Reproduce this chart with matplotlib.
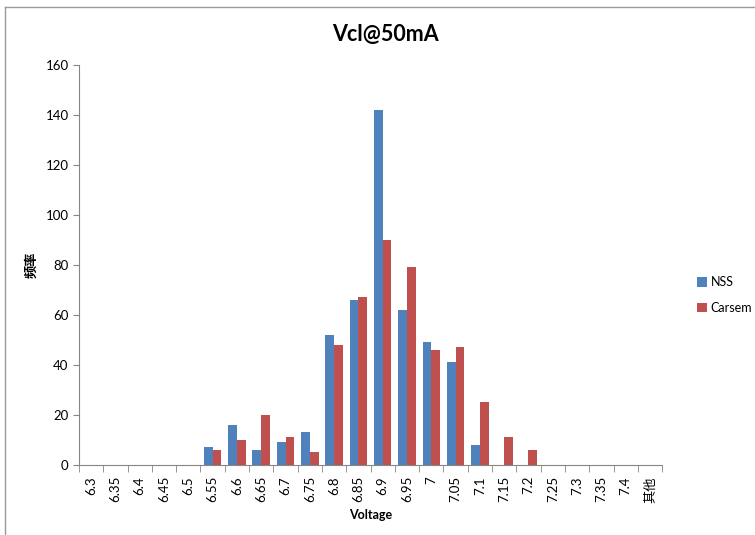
import numpy as np
import matplotlib.pyplot as plt
from matplotlib.lines import Line2D

plt.rcParams['font.family'] = ['Lato', 'Noto Sans CJK SC', 'DejaVu Sans']

categories = ['6.3', '6.35', '6.4', '6.45', '6.5', '6.55', '6.6', '6.65', '6.7', '6.75',
              '6.8', '6.85', '6.9', '6.95', '7', '7.05', '7.1', '7.15', '7.2', '7.25',
              '7.3', '7.35', '7.4', '其他']
nss = [0, 0, 0, 0, 0, 7, 16, 6, 9, 13, 52, 66, 142, 62, 49, 41, 8, 0, 0, 0, 0, 0, 0, 0]
carsem = [0, 0, 0, 0, 0, 6, 10, 20, 11, 5, 48, 67, 90, 79, 46, 47, 25, 11, 6, 0, 0, 0, 0, 0]
yticks = [0, 20, 40, 60, 80, 100, 120, 140, 160]

fig = plt.figure(figsize=(7.55, 5.35), dpi=100)
ax = fig.add_axes([0.1046, 0.131, 0.7724, 0.7475])

x = np.arange(len(categories))
w = 0.36
ax.bar(x - w / 2, nss, w, color='#4f81bd', label='NSS')
ax.bar(x + w / 2, carsem, w, color='#c0504d', label='Carsem')

ax.set_xlim(-0.5, len(categories) - 0.5)
ax.set_ylim(0, 160)
ax.set_yticks(yticks)
ax.tick_params(axis='y', labelsize=9.5, length=4, color='#868686', direction='out')

# category labels at centers, tick marks at boundaries
ax.set_xticks(x)
ax.set_xticklabels(categories, rotation=90, fontsize=9.5)
ax.tick_params(axis='x', which='major', length=0, pad=8)
ax.set_xticks(np.arange(-0.5, len(categories)), minor=True)
ax.tick_params(axis='x', which='minor', length=5, color='#868686')

for s in ['top', 'right']:
    ax.spines[s].set_visible(False)
for s in ['left', 'bottom']:
    ax.spines[s].set_color('#868686')

# Excel centres the title on the whole chart, not the plot area
fig.text(0.51, 0.935, 'Vcl@50mA', fontsize=15.5, fontweight='bold',
         ha='center', va='center')
ax.set_xlabel('Voltage', fontsize=9, fontweight='bold', labelpad=5)
ax.set_ylabel('频率', fontsize=9.5, fontweight='bold', labelpad=6)

ax.legend(loc='center left', bbox_to_anchor=(1.04, 0.425), frameon=False,
          fontsize=9, handlelength=0.8, handleheight=0.8, labelspacing=1.1,
          handletextpad=0.3)

# chart border (only top and left edges are visible in the screenshot)
fig.lines.append(Line2D([5 / 755, 1.0], [1 - 7 / 535, 1 - 7 / 535], transform=fig.transFigure,
                        color='#9a9a9a', linewidth=1))
fig.lines.append(Line2D([5 / 755, 5 / 755], [0, 1 - 7 / 535], transform=fig.transFigure,
                        color='#9a9a9a', linewidth=1))

fig.savefig('out.png', dpi=100)
